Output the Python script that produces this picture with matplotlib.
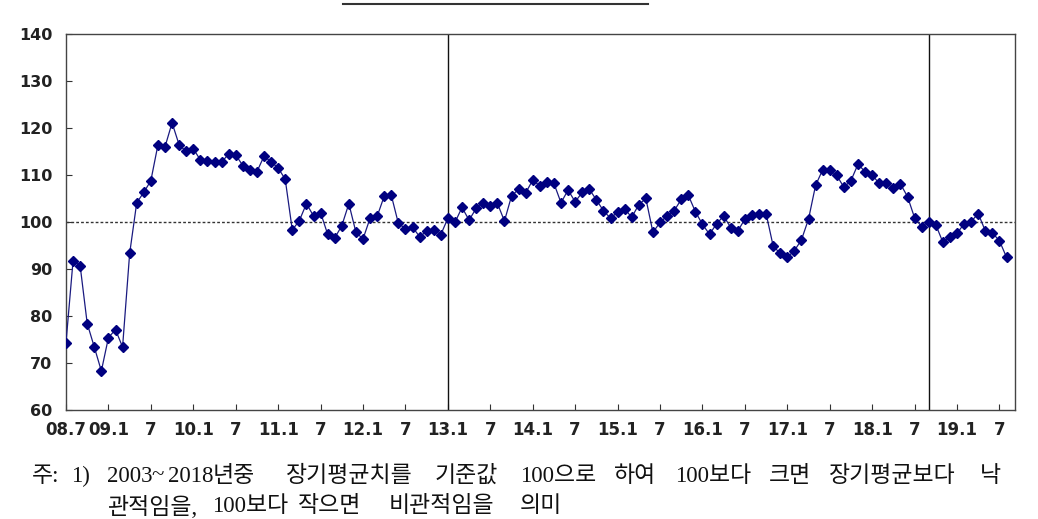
import matplotlib
matplotlib.use("Agg")
import matplotlib.pyplot as plt
import numpy as np

# Monthly index, 2008.7 ~ 2019.8
values = [
    74.3, 91.8, 90.7, 78.4, 73.4, 68.3, 75.4, 77.1, 73.4, 93.3,
    104.1, 106.3, 108.8, 116.4, 116.0, 121.1, 116.4, 115.0, 115.6, 113.2,
    113.0, 112.8, 112.7, 114.5, 114.3, 112.0, 111.0, 110.7, 114.0, 112.8,
    111.5, 109.1, 98.3, 100.3, 103.9, 101.3, 102.0, 97.4, 96.6, 99.2,
    103.9, 97.8, 96.4, 100.8, 101.2, 105.5, 105.7, 99.7, 98.6, 98.9,
    96.9, 98.0, 98.3, 97.3, 100.8, 99.9, 103.1, 100.4, 102.9, 104.0,
    103.3, 104.0, 100.2, 105.5, 107.0, 106.2, 108.9, 107.7, 108.5, 108.2,
    104.1, 106.8, 104.3, 106.3, 107.0, 104.7, 102.4, 100.8, 102.1, 102.8,
    101.0, 103.7, 105.0, 97.8, 99.9, 101.3, 102.4, 104.8, 105.7, 102.2,
    99.5, 97.4, 99.6, 101.3, 98.8, 98.1, 100.6, 101.5, 101.6, 101.8,
    94.9, 93.3, 92.5, 93.9, 96.2, 100.6, 107.8, 111.1, 111.1, 109.9,
    107.4, 108.8, 112.3, 110.7, 110.0, 108.2, 108.2, 107.2, 108.1, 105.4,
    100.9, 99.0, 100.1, 99.4, 95.7, 96.9, 97.6, 99.6, 100.1, 101.8,
    98.1, 97.7, 96.0, 92.5,
]
tick_labels = ['08.7', '09.1', '7', '10.1', '7', '11.1', '7', '12.1', '7',
               '13.1', '7', '14.1', '7', '15.1', '7', '16.1', '7', '17.1',
               '7', '18.1', '7', '19.1', '7']
tick_step = 6
vlines_idx = [54, 122]   # 2013.1, 2018.9
baseline = 100
yticks = [60, 70, 80, 90, 100, 110, 120, 130, 140]

footnote_line1 = [("주:", 32), ("1)", 71), ("2003", 107), ("2018", 168),
                  ("년중", 213), ("장기평균치를", 286), ("기준값", 435),
                  ("100으로", 520), ("하여", 614), ("100보다", 675),
                  ("크면", 769), ("장기평균보다", 829), ("낙", 980)]
footnote_tilde = ("~", 158)
footnote_line2 = [("관적임을,", 107), ("100보다", 212), ("작으면", 298),
                  ("비관적임을", 389), ("의미", 520)]

W, H = 1038, 519
fig = plt.figure(figsize=(W / 100, H / 100), dpi=100)
ax = fig.add_axes([66 / W, 1 - 410 / H, (1015 - 66) / W, (410 - 34) / H])

x = np.arange(len(values))
ax.plot(x, values, color='#1a1a80', lw=0.9, marker='D', markersize=5.2,
        markerfacecolor='#000080', markeredgecolor='#000080', zorder=3)
ax.axhline(baseline, color='#333333', lw=1.0, ls=(0, (2, 1.5)), zorder=2)
for v in vlines_idx:
    ax.axvline(v, color='#111111', lw=1.0, zorder=2)

ax.set_xlim(0, 134.2)
ax.set_ylim(60, 140)
ax.set_yticks(yticks)
ax.set_xticks(np.arange(0, tick_step * len(tick_labels), tick_step))
ax.set_xticklabels(tick_labels)
ax.tick_params(direction='in', length=4, width=0.8, colors='#333333',
               labelcolor='#222222')
ax.tick_params(axis='x', pad=8)
ax.tick_params(axis='y', pad=10)
for lab in ax.get_xticklabels():
    lab.set_fontweight('bold')
    lab.set_fontsize(12)
    lab.set_family('DejaVu Sans')
for lab in ax.get_yticklabels():
    lab.set_fontweight('bold')
    lab.set_fontsize(11.5)
    lab.set_family('DejaVu Sans')
for s in ax.spines.values():
    s.set_color('#444444')
    s.set_linewidth(1.0)

# cut-off title underline
fig.add_artist(plt.Line2D([343 / W, 648 / W], [1 - 4 / H, 1 - 4 / H],
                          color='#333333', lw=1.5))

fam = ['Liberation Serif', 'Noto Sans CJK KR']
y1, y2 = 1 - 476 / H, 1 - 507 / H
for txt, px in footnote_line1:
    fig.text(px / W, y1, txt, ha='left', va='center',
             fontsize=16.5, family=fam, color='#111111')
fig.text(footnote_tilde[1] / W, y1, footnote_tilde[0], ha='center',
         va='center', fontsize=16.5, family=fam, color='#111111')
for txt, px in footnote_line2:
    fig.text(px / W, y2, txt, ha='left', va='center',
             fontsize=16.5, family=fam, color='#111111')

fig.savefig('out.png', dpi=100)
